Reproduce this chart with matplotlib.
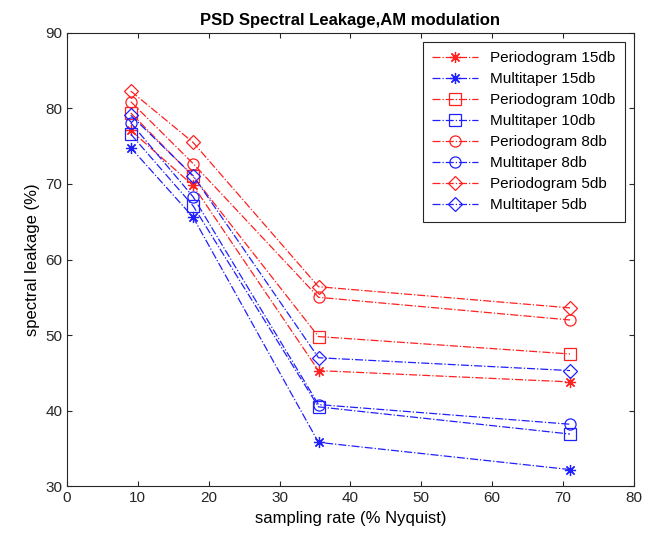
import matplotlib
matplotlib.use('Agg')
import matplotlib.pyplot as plt

# sampling rate (% Nyquist)
rates = [9, 17.8, 35.5, 71]

# spectral leakage (%)
per_15 = [77.1, 69.8, 45.3, 43.8]
mt_15 = [74.8, 65.6, 35.8, 32.2]
per_10 = [79.4, 71.0, 49.8, 47.5]
mt_10 = [76.6, 67.1, 40.5, 36.9]
per_8 = [80.9, 72.7, 55.0, 52.0]
mt_8 = [78.1, 68.3, 40.8, 38.2]
per_5 = [82.3, 75.5, 56.4, 53.6]
mt_5 = [79.1, 71.1, 47.0, 45.3]

# matlab style asterisk = plus + cross
star = (8, 2, 0)

series = [
    (per_15, 'r', star, 'Periodogram 15db'),
    (mt_15, 'b', star, 'Multitaper 15db'),
    (per_10, 'r', 's', 'Periodogram 10db'),
    (mt_10, 'b', 's', 'Multitaper 10db'),
    (per_8, 'r', 'o', 'Periodogram 8db'),
    (mt_8, 'b', 'o', 'Multitaper 8db'),
    (per_5, 'r', 'D', 'Periodogram 5db'),
    (mt_5, 'b', 'D', 'Multitaper 5db'),
]

plt.rcParams['font.family'] = ['Liberation Sans', 'DejaVu Sans']

fig = plt.figure(figsize=(6.66, 5.39), dpi=100)
ax = fig.add_axes([0.1006, 0.098, 0.851, 0.841])

colors = {'r': '#ff2020', 'b': '#2020ff'}
for vals, c, m, label in series:
    ms = 8 if m == star else (7 if m == 'D' else 8)
    ax.plot(rates, vals, linestyle='-.', color=colors[c], marker=m,
            markerfacecolor='none', markeredgecolor=colors[c], markersize=ms,
            linewidth=0.9, markeredgewidth=0.9, label=label)

ax.set_xlim(0, 80)
ax.set_ylim(30, 90)
ax.set_xticks(range(0, 81, 10))
ax.set_yticks(range(30, 91, 10))
ax.tick_params(direction='in', top=True, right=True, labelsize=11, colors='#262626')
for sp in ax.spines.values():
    sp.set_color('#262626')
    sp.set_linewidth(0.8)

ax.set_xlabel('sampling rate (% Nyquist)', fontsize=12)
ax.set_ylabel('spectral leakage (%)', fontsize=12)
ax.set_title('PSD Spectral Leakage,AM modulation', fontsize=12, fontweight='bold')

leg = ax.legend(loc='upper right', fontsize=11, fancybox=False, framealpha=1,
                edgecolor='#262626', handlelength=3.0, borderaxespad=0.6,
                labelspacing=0.46, borderpad=0.6)
leg.get_frame().set_linewidth(0.8)

fig.savefig('out.png', dpi=100)
